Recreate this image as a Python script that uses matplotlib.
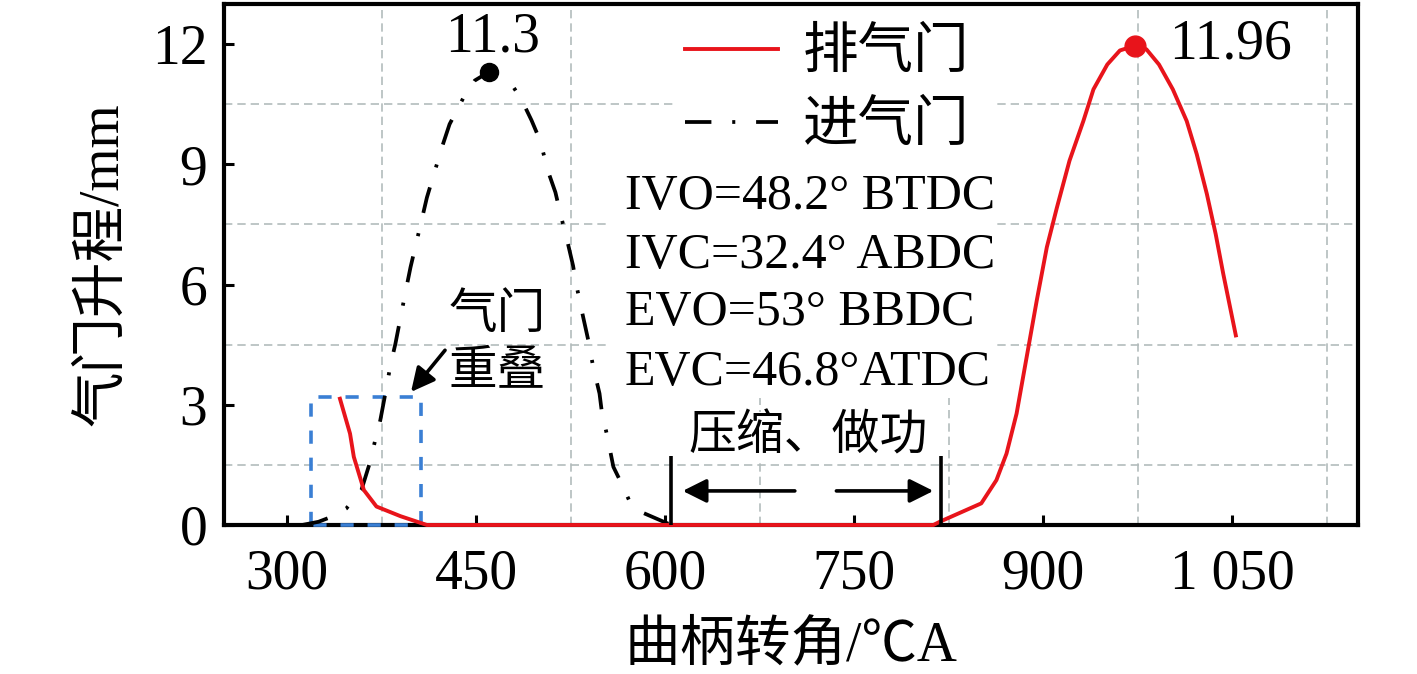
import matplotlib
matplotlib.use('Agg')
import matplotlib.pyplot as plt
from matplotlib.lines import Line2D
from matplotlib.patches import Rectangle

plt.rcParams['font.family'] = ['Liberation Serif', 'Noto Sans CJK SC']
plt.rcParams['lines.scale_dashes'] = False

# ---------------- data ----------------
intake_crank = [312, 325, 335, 347, 359, 366, 370, 374, 379, 382, 386, 394, 398, 407, 411,
                423, 429, 440, 449, 460, 470, 480, 486, 494, 501, 507, 513, 517, 523, 527,
                530, 535, 539, 543, 548, 550, 554, 559, 566, 572, 582, 596, 605]
intake_lift = [0.0, 0.08, 0.2, 0.41, 0.87, 1.58, 2.12, 2.61, 3.44, 3.98, 4.52, 5.81, 6.43, 7.63, 8.17,
               9.43, 10.0, 10.66, 11.09, 11.3, 11.16, 10.91, 10.62, 10.1, 9.58, 8.84, 8.3, 7.76, 7.01, 6.47,
               5.93, 5.19, 4.62, 3.94, 3.28, 2.78, 2.24, 1.45, 1.0, 0.58, 0.31, 0.12, 0.0]

exhaust_crank = [342, 350, 353, 361, 371, 390, 411, 813, 818, 851, 863, 871, 879, 887, 895,
                 903, 911, 921, 932, 940, 951, 961, 973, 982, 992, 1003, 1014, 1022, 1030,
                 1037, 1043, 1053]
exhaust_lift = [3.15, 2.28, 1.70, 0.87, 0.46, 0.22, 0.0, 0.0, 0.08, 0.54, 1.12, 1.78, 2.78, 4.19, 5.6,
                6.93, 7.92, 9.09, 10.08, 10.87, 11.49, 11.84, 11.96, 11.87, 11.49, 10.87, 10.08, 9.25, 8.26,
                7.26, 6.27, 4.73]

intake_peak_x, intake_peak_y = 460, 11.3
exhaust_peak_x, exhaust_peak_y = 973, 11.96

series_labels = ['排气门', '进气门']
x_ticks = [300, 450, 600, 750, 900, 1050]
x_tick_labels = ['300', '450', '600', '750', '900', '1 050']
y_ticks = [0, 3, 6, 9, 12]
x_grid = [375, 525, 675, 825, 975, 1125]
y_grid = [1.5, 4.5, 7.5, 10.5]

timing_labels = ['IVO=48.2° BTDC', 'IVC=32.4° ABDC', 'EVO=53° BBDC', 'EVC=46.8°ATDC']
timing_x = 568
timing_y = [7.89, 6.40, 4.98, 3.49]

overlap_x0, overlap_x1, overlap_top = 319, 406, 3.2
overlap_text = ['气门', '重叠']
overlap_text_x = 466.5
overlap_text_y = [5.23, 3.78]
overlap_arrow_tail = (425.4, 4.36)
overlap_arrow_head = (398.4, 3.32)

stroke_marks = [604.5, 818.8]
stroke_mark_top = 1.72
stroke_text = '压缩、做功'
stroke_text_pos = (713.5, 2.19)
stroke_arrow_y = 0.85
stroke_arrow_left = (703, 614)
stroke_arrow_right = (736, 813)

# ---------------- figure ----------------
fig = plt.figure(figsize=(14.17, 6.74), dpi=100)
ax = fig.add_axes([0.1581, 0.2211, 0.8003, 0.7730])
ax.set_xlim(250, 1150)
ax.set_ylim(0, 13)

red = '#e8141b'
blue = '#3a7fd4'
grid_c = '#b3bcbc'

# grid on minor positions only
ax.set_xticks(x_ticks)
ax.set_xticklabels(x_tick_labels)
ax.set_yticks(y_ticks)
ax.set_xticks(x_grid, minor=True)
ax.set_yticks(y_grid, minor=True)
ax.grid(False, which='major')
ax.grid(True, which='minor', color=grid_c, linestyle=(0, (6, 3.6)), linewidth=1.2)
ax.tick_params(which='minor', length=0)
ax.tick_params(which='major', direction='in', length=7.5, width=2.2, labelsize=40,
               top=False, right=False)
ax.tick_params(axis='x', pad=17)
ax.tick_params(axis='y', pad=12)
for s in ax.spines.values():
    s.set_linewidth(3.0)

# white masks behind legend and text block
ax.add_patch(Rectangle((0.3995, 0.7198), 0.2787, 0.2802, transform=ax.transAxes,
                       facecolor='white', edgecolor='none', zorder=1.8))
ax.add_patch(Rectangle((0.3386, 0.2438), 0.3395, 0.4760, transform=ax.transAxes,
                       facecolor='white', edgecolor='none', zorder=1.8))

dashdot = (0, (19, 15, 2.2, 15))
ax.plot(intake_crank, intake_lift, color='black', lw=2.7, linestyle=dashdot,
        zorder=3.5, clip_on=False)
ax.plot(exhaust_crank, exhaust_lift, color=red, lw=2.8, zorder=4, clip_on=False)

ax.plot([intake_peak_x], [intake_peak_y], 'o', color='black', ms=13, zorder=5)
ax.plot([exhaust_peak_x], [exhaust_peak_y], 'o', color=red, ms=15, zorder=5)
ax.text(intake_peak_x + 3.5, 11.82, f'{intake_peak_y}', fontsize=40, ha='center', va='baseline')
ax.text(1049, 11.65, f'{exhaust_peak_y}', fontsize=40, ha='center', va='baseline')

# overlap box
ax.plot([overlap_x0, overlap_x0, overlap_x1, overlap_x1, overlap_x0],
        [0, overlap_top, overlap_top, 0, 0], color=blue, lw=2.6,
        linestyle=(0, (9.5, 10)), zorder=3, clip_on=False)
for t, y in zip(overlap_text, overlap_text_y):
    ax.text(overlap_text_x, y, t, fontsize=35, ha='center', va='center')
ax.annotate('', xy=overlap_arrow_head, xytext=overlap_arrow_tail,
            arrowprops=dict(arrowstyle='-|>', lw=2.6, color='black', mutation_scale=36,
                            shrinkA=0, shrinkB=0))

# compression / power stroke
ax.vlines(stroke_marks, 0, stroke_mark_top, color='black', lw=2.6, zorder=4)
ax.text(stroke_text_pos[0], stroke_text_pos[1], stroke_text, fontsize=34.5,
        ha='center', va='center', zorder=3,
        bbox=dict(facecolor='white', edgecolor='none', pad=2))
ax.annotate('', xy=(stroke_arrow_left[1], stroke_arrow_y), xytext=(stroke_arrow_left[0], stroke_arrow_y),
            arrowprops=dict(arrowstyle='-|>', lw=2.6, color='black', mutation_scale=36,
                            shrinkA=0, shrinkB=0))
ax.annotate('', xy=(stroke_arrow_right[1], stroke_arrow_y), xytext=(stroke_arrow_right[0], stroke_arrow_y),
            arrowprops=dict(arrowstyle='-|>', lw=2.6, color='black', mutation_scale=36,
                            shrinkA=0, shrinkB=0))

# timing text
for t, y in zip(timing_labels, timing_y):
    ax.text(timing_x, y, t, fontsize=36, ha='left', va='baseline', zorder=3)

# legend
handles = [Line2D([], [], color=red, lw=2.8),
           Line2D([], [], color='black', lw=2.7, linestyle=dashdot)]
ax.legend(handles, series_labels, loc='upper left',
          bbox_to_anchor=(685 / 1417, 1 - 28 / 674), bbox_transform=fig.transFigure,
          frameon=False, fontsize=40, handlelength=1.67, handletextpad=0.45,
          labelspacing=0.38, borderpad=0, borderaxespad=0)

ax.set_xlabel('曲柄转角/℃A', fontsize=40, labelpad=14)
ax.set_ylabel('气门升程/mm', fontsize=40, labelpad=16)

fig.savefig('out.png', dpi=100)
